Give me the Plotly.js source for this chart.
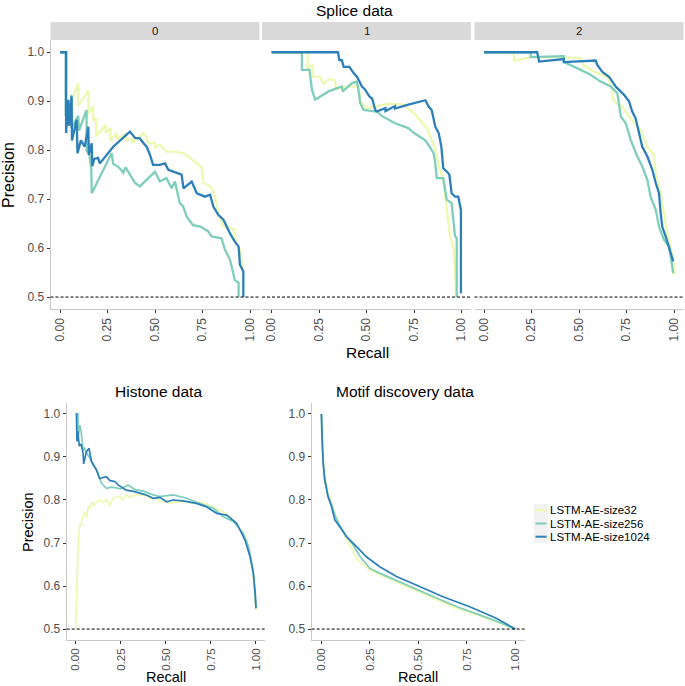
<!DOCTYPE html>
<html><head><meta charset="utf-8">
<script src="https://cdn.plot.ly/plotly-3.0.1.min.js"></script>
<style>body{margin:0;padding:0;background:#fff}#chart{width:685px;height:686px}</style>
</head><body><div id="chart"></div>
<script>
const seriesNames = ['LSTM-AE-size32', 'LSTM-AE-size256', 'LSTM-AE-size1024'];
const seriesColors = ['#edf8b1', '#7fcdbb', '#2c7fb8'];
const spliceFacets = ['0', '1', '2'];
const xTickVals = [0, 0.25, 0.5, 0.75, 1];
const yTickVals = [0.5, 0.6, 0.7, 0.8, 0.9, 1.0];
const baseline = 0.5;

// ---- Splice data, facet 0 ----
const s0_r32 = [0,0.035,0.035,0.05,0.05,0.095,0.095,0.15,0.15,0.175,0.175,0.19,0.19,0.24,0.24,0.265,0.265,0.3,0.3,0.35,0.35,0.38,0.38,0.44,0.45,0.465,0.5,0.5,0.526,0.56,0.6,0.65,0.675,0.72,0.745,0.755,0.78,0.8,0.816,0.833,0.86,0.912,0.93,0.947,0.965];
const s0_p32 = [1.0,1.0,0.87,0.9,0.885,0.937,0.89,0.922,0.875,0.89,0.86,0.865,0.828,0.852,0.835,0.845,0.82,0.835,0.822,0.835,0.82,0.823,0.815,0.835,0.83,0.814,0.815,0.806,0.811,0.797,0.797,0.794,0.787,0.773,0.765,0.733,0.729,0.722,0.705,0.671,0.644,0.64,0.61,0.597,0.556];
const s0_r256 = [0,0.03,0.03,0.045,0.045,0.06,0.06,0.096,0.1,0.14,0.14,0.155,0.165,0.167,0.272,0.28,0.31,0.333,0.345,0.36,0.395,0.42,0.5,0.526,0.56,0.588,0.605,0.63,0.648,0.667,0.7,0.74,0.78,0.798,0.85,0.868,0.895,0.92,0.94,0.94];
const s0_p256 = [1.0,1.0,0.87,0.88,0.85,0.913,0.845,0.87,0.84,0.882,0.8,0.79,0.76,0.712,0.794,0.772,0.765,0.754,0.765,0.755,0.733,0.726,0.756,0.736,0.743,0.722,0.736,0.692,0.685,0.664,0.647,0.644,0.634,0.624,0.62,0.597,0.576,0.535,0.529,0.5];
const s0_r1024 = [0,0.032,0.032,0.044,0.048,0.061,0.063,0.088,0.092,0.11,0.13,0.149,0.152,0.167,0.17,0.18,0.2,0.21,0.28,0.368,0.395,0.42,0.44,0.456,0.474,0.49,0.526,0.553,0.57,0.614,0.64,0.65,0.693,0.72,0.763,0.79,0.807,0.833,0.86,0.895,0.92,0.94,0.947,0.965,0.965];
const s0_p1024 = [1.0,1.0,0.835,0.903,0.85,0.91,0.82,0.862,0.794,0.82,0.807,0.848,0.79,0.814,0.767,0.782,0.784,0.773,0.807,0.838,0.825,0.824,0.814,0.807,0.79,0.77,0.77,0.773,0.76,0.753,0.75,0.722,0.736,0.712,0.705,0.709,0.685,0.668,0.658,0.63,0.613,0.603,0.566,0.552,0.5];

// ---- Splice data, facet 1 ----
const s1_r32 = [0,0.19,0.19,0.215,0.22,0.255,0.275,0.3,0.334,0.34,0.4,0.44,0.457,0.47,0.5,0.55,0.62,0.7,0.757,0.818,0.845,0.86,0.87,0.88,0.904,0.922,0.94,0.957,0.966,0.971];
const s1_p32 = [1.0,1.0,0.965,0.975,0.95,0.95,0.935,0.945,0.943,0.925,0.93,0.93,0.93,0.9,0.885,0.89,0.895,0.893,0.872,0.845,0.82,0.805,0.79,0.77,0.74,0.678,0.624,0.603,0.562,0.5];
const s1_r256 = [0,0.16,0.16,0.2,0.213,0.23,0.3,0.37,0.375,0.424,0.448,0.455,0.467,0.485,0.555,0.58,0.617,0.65,0.72,0.75,0.81,0.845,0.852,0.86,0.87,0.904,0.922,0.948,0.966,0.975,0.975];
const s1_p256 = [1.0,1.0,0.964,0.964,0.923,0.903,0.92,0.93,0.92,0.937,0.94,0.93,0.896,0.882,0.879,0.87,0.862,0.855,0.845,0.835,0.82,0.8,0.795,0.78,0.743,0.743,0.699,0.692,0.624,0.62,0.5];
const s1_r1024 = [0,0.35,0.357,0.37,0.38,0.41,0.433,0.45,0.476,0.49,0.515,0.53,0.546,0.553,0.6,0.6,0.65,0.65,0.72,0.81,0.827,0.843,0.862,0.88,0.894,0.904,0.924,0.936,0.948,0.966,0.983,0.992,0.997,0.997];
const s1_p1024 = [1.0,1.0,0.984,0.984,0.97,0.97,0.957,0.95,0.93,0.925,0.91,0.905,0.882,0.879,0.886,0.88,0.89,0.885,0.893,0.902,0.889,0.882,0.848,0.835,0.807,0.763,0.756,0.75,0.712,0.705,0.705,0.682,0.678,0.508];

// ---- Splice data, facet 2 ----
const s2_r32 = [0,0.158,0.158,0.2,0.25,0.3,0.4,0.509,0.52,0.579,0.62,0.649,0.67,0.684,0.728,0.76,0.79,0.825,0.86,0.895,0.904,0.93,0.947,0.965,0.982,1.0,1.0];
const s2_p32 = [1.0,1.0,0.983,0.986,0.99,0.99,0.99,0.988,0.975,0.96,0.955,0.95,0.93,0.9,0.889,0.87,0.855,0.841,0.807,0.79,0.753,0.712,0.671,0.63,0.603,0.562,0.545];
const s2_r256 = [0,0.246,0.246,0.42,0.42,0.456,0.509,0.561,0.614,0.667,0.702,0.72,0.746,0.772,0.807,0.833,0.86,0.877,0.904,0.921,0.947,0.974,0.982,0.991,0.996];
const s2_p256 = [1.0,1.0,0.99,0.992,0.98,0.974,0.964,0.954,0.94,0.93,0.916,0.869,0.855,0.821,0.787,0.767,0.739,0.705,0.678,0.644,0.617,0.603,0.583,0.556,0.549];
const s2_r1024 = [0,0.28,0.29,0.42,0.42,0.588,0.596,0.623,0.658,0.693,0.737,0.763,0.78,0.798,0.816,0.833,0.86,0.886,0.904,0.921,0.93,0.938,0.956,0.974,0.991,0.996];
const s2_p1024 = [1.0,1.0,0.981,0.986,0.98,0.983,0.974,0.96,0.95,0.93,0.913,0.9,0.879,0.865,0.835,0.807,0.787,0.76,0.733,0.712,0.671,0.644,0.624,0.6,0.576,0.573];

// ---- Histone data ----
const h_r32 = [0,0.004,0.007,0.01,0.013,0.018,0.022,0.03,0.04,0.05,0.06,0.07,0.078,0.087,0.096,0.1,0.115,0.133,0.15,0.17,0.189,0.21,0.226,0.244,0.26,0.28,0.3,0.33,0.356,0.38,0.411,0.45,0.467,0.504,0.522,0.55,0.596,0.652,0.689,0.73,0.78,0.83,0.874,0.9,0.93,0.95,0.967,0.985,0.994,1.0];
const h_p32 = [0.5,0.56,0.62,0.66,0.69,0.72,0.745,0.74,0.765,0.77,0.76,0.785,0.781,0.792,0.796,0.785,0.795,0.8,0.795,0.8,0.788,0.805,0.808,0.808,0.8,0.812,0.806,0.813,0.81,0.812,0.804,0.803,0.796,0.796,0.792,0.795,0.796,0.792,0.795,0.79,0.78,0.77,0.753,0.74,0.722,0.705,0.676,0.63,0.575,0.544];
const h_r256 = [0,0.013,0.013,0.022,0.03,0.041,0.05,0.06,0.075,0.096,0.115,0.143,0.17,0.2,0.25,0.291,0.33,0.38,0.43,0.467,0.541,0.615,0.689,0.763,0.819,0.874,0.93,0.96,0.985,0.996,1.0];
const h_p256 = [1.0,1.0,0.94,0.974,0.96,0.916,0.92,0.91,0.9,0.881,0.87,0.839,0.827,0.83,0.826,0.835,0.824,0.82,0.812,0.808,0.812,0.804,0.792,0.781,0.761,0.75,0.722,0.69,0.635,0.585,0.55];
const h_r1024 = [0,0.004,0.007,0.011,0.02,0.03,0.041,0.044,0.059,0.074,0.087,0.1,0.115,0.133,0.17,0.19,0.217,0.235,0.28,0.32,0.356,0.39,0.43,0.467,0.504,0.54,0.596,0.67,0.726,0.782,0.837,0.893,0.939,0.967,0.985,0.996,1.0];
const h_p1024 = [1.0,1.0,0.936,0.96,0.925,0.93,0.909,0.884,0.912,0.92,0.89,0.88,0.87,0.85,0.854,0.845,0.843,0.835,0.823,0.82,0.816,0.812,0.804,0.806,0.796,0.8,0.798,0.792,0.784,0.769,0.765,0.746,0.707,0.668,0.63,0.583,0.548];

// ---- Motif discovery data ----
const m_r32 = [0,0.003,0.009,0.017,0.034,0.052,0.069,0.095,0.129,0.15,0.18,0.2,0.25,0.3,0.4,0.5,0.6,0.7,0.8,0.9,1.0];
const m_p32 = [1.0,0.95,0.9,0.86,0.82,0.795,0.77,0.74,0.71,0.695,0.665,0.655,0.637,0.627,0.606,0.587,0.568,0.548,0.533,0.517,0.5];
const m_r256 = [0,0.003,0.009,0.017,0.034,0.052,0.069,0.095,0.129,0.163,0.2,0.25,0.3,0.4,0.5,0.6,0.7,0.8,0.9,1.0];
const m_p256 = [1.0,0.93,0.89,0.85,0.81,0.79,0.765,0.74,0.715,0.696,0.668,0.641,0.63,0.61,0.591,0.571,0.552,0.536,0.519,0.5];
const m_r1024 = [0,0.003,0.009,0.017,0.034,0.052,0.069,0.095,0.129,0.18,0.232,0.301,0.387,0.507,0.627,0.765,0.902,1.0];
const m_p1024 = [1.0,0.94,0.886,0.847,0.808,0.785,0.754,0.738,0.715,0.692,0.668,0.645,0.622,0.599,0.575,0.552,0.525,0.5];

const panels = [
  {ax: '', data: [[s0_r32, s0_p32], [s0_r256, s0_p256], [s0_r1024, s0_p1024]], lw: 2.3},
  {ax: '2', data: [[s1_r32, s1_p32], [s1_r256, s1_p256], [s1_r1024, s1_p1024]], lw: 2.3},
  {ax: '3', data: [[s2_r32, s2_p32], [s2_r256, s2_p256], [s2_r1024, s2_p1024]], lw: 2.3},
  {ax: '4', data: [[h_r32, h_p32], [h_r256, h_p256], [h_r1024, h_p1024]], lw: 1.7},
  {ax: '5', data: [[m_r32, m_p32], [m_r256, m_p256], [m_r1024, m_p1024]], lw: 1.7}
];

const traces = [];
panels.forEach(pn => {
  pn.data.forEach((d, i) => {
    traces.push({
      type: 'scatter', mode: 'lines', x: d[0], y: d[1],
      xaxis: 'x' + pn.ax, yaxis: 'y' + pn.ax,
      line: {color: seriesColors[i], width: pn.lw},
      name: seriesNames[i], showlegend: false, hoverinfo: 'skip'
    });
  });
});

const W = 685, H = 686;
const fx = v => v / W;
const fy = v => 1 - v / H;
const FONT = 'Liberation Sans, Arial, sans-serif';

function xAxis(domain, anchor, fs) {
  return {domain: domain, anchor: anchor, range: [-0.05, 1.05], tickvals: xTickVals, tickformat: '.2f',
    tickangle: -90, ticks: 'outside', ticklen: 3, tickwidth: 1, tickcolor: '#333',
    showline: true, linecolor: '#c8c8c8', linewidth: 1, showgrid: false, zeroline: false,
    tickfont: {family: FONT, size: fs, color: '#4d4d4d'}, automargin: false, fixedrange: true};
}
function yAxis(domain, anchor, labels) {
  return {domain: domain, anchor: anchor, range: [0.475, 1.025], tickvals: yTickVals, tickformat: '.1f',
    ticks: labels ? 'outside' : '', ticklen: 3, tickwidth: 1, tickcolor: '#333',
    showline: labels, linecolor: '#c8c8c8', linewidth: 1, showgrid: false, zeroline: false,
    showticklabels: labels, tickfont: {family: FONT, size: 12, color: '#4d4d4d'}, automargin: false, fixedrange: true};
}

const topY = [fy(309.3), fy(40)];
const botY = [fy(639.8), fy(403.2)];
const xd = [[fx(50.5), fx(259.5)], [fx(262), fx(471)], [fx(474.5), fx(683.5)], [fx(66.7), fx(265)], [fx(311.7), fx(525)]];

const layout = {
  width: W, height: H, margin: {l: 0, r: 0, t: 0, b: 0},
  paper_bgcolor: '#fff', plot_bgcolor: 'rgba(0,0,0,0)', showlegend: false,
  font: {family: FONT, color: '#000'},
  xaxis: xAxis(xd[0], 'y', 12), yaxis: yAxis(topY, 'x', true),
  xaxis2: xAxis(xd[1], 'y2', 12), yaxis2: yAxis(topY, 'x2', false),
  xaxis3: xAxis(xd[2], 'y3', 12), yaxis3: yAxis(topY, 'x3', false),
  xaxis4: xAxis(xd[3], 'y4', 11.5), yaxis4: yAxis(botY, 'x4', true),
  xaxis5: xAxis(xd[4], 'y5', 11.5), yaxis5: yAxis(botY, 'x5', true),
  shapes: [], annotations: []
};

// dashed baselines
['', '2', '3', '4', '5'].forEach(a => {
  layout.shapes.push({type: 'line', xref: 'x' + a + ' domain', yref: 'y' + a, x0: 0, x1: 1, y0: baseline, y1: baseline,
    line: {color: '#000', width: 1, dash: '3px,2px'}, layer: 'above'});
});
// facet strips
spliceFacets.forEach((lab, i) => {
  layout.shapes.push({type: 'rect', xref: 'paper', yref: 'paper', x0: xd[i][0], x1: xd[i][1], y0: fy(40), y1: fy(22),
    fillcolor: '#d9d9d9', line: {width: 0}, layer: 'below'});
  layout.annotations.push({xref: 'paper', yref: 'paper', x: (xd[i][0] + xd[i][1]) / 2, y: fy(31), text: lab, showarrow: false,
    xanchor: 'center', yanchor: 'middle', font: {family: FONT, size: 11.5, color: '#1a1a1a'}});
});

function ann(text, x, y, size, angle) {
  layout.annotations.push({xref: 'paper', yref: 'paper', x: fx(x), y: fy(y), text: text, showarrow: false,
    xanchor: 'center', yanchor: 'middle', textangle: angle || 0, borderpad: 0, font: {family: FONT, size: size, color: '#000'}});
}
ann('Splice data', 354, 10, 15.5);
ann('Recall', 367, 352, 15.5);
ann('Precision', 9, 175, 16, -90);
ann('Histone data', 158, 391, 15.5);
ann('Motif discovery data', 405, 391, 15.5);
ann('Recall', 166, 677, 14.5);
ann('Recall', 418, 677, 14.5);
ann('Precision', 28, 522, 14.5, -90);

// legend (drawn manually to match the compact key spacing)
const legRows = [510.3, 523.5, 536.7];
layout.shapes.push({type: 'rect', xref: 'paper', yref: 'paper', x0: fx(534), x1: fx(548), y0: fy(543), y1: fy(504),
  fillcolor: '#f2f2f2', line: {width: 0}});
seriesNames.forEach((nm, i) => {
  layout.shapes.push({type: 'line', xref: 'paper', yref: 'paper', x0: fx(535.5), x1: fx(546.5), y0: fy(legRows[i]), y1: fy(legRows[i]),
    line: {color: seriesColors[i], width: 2}});
  layout.annotations.push({xref: 'paper', yref: 'paper', x: fx(549), y: fy(legRows[i]), text: nm, showarrow: false,
    xanchor: 'left', yanchor: 'middle', borderpad: 0, font: {family: FONT, size: 11.5, color: '#000'}});
});

Plotly.newPlot('chart', traces, layout, {staticPlot: true, displayModeBar: false});
</script>
</body></html>
